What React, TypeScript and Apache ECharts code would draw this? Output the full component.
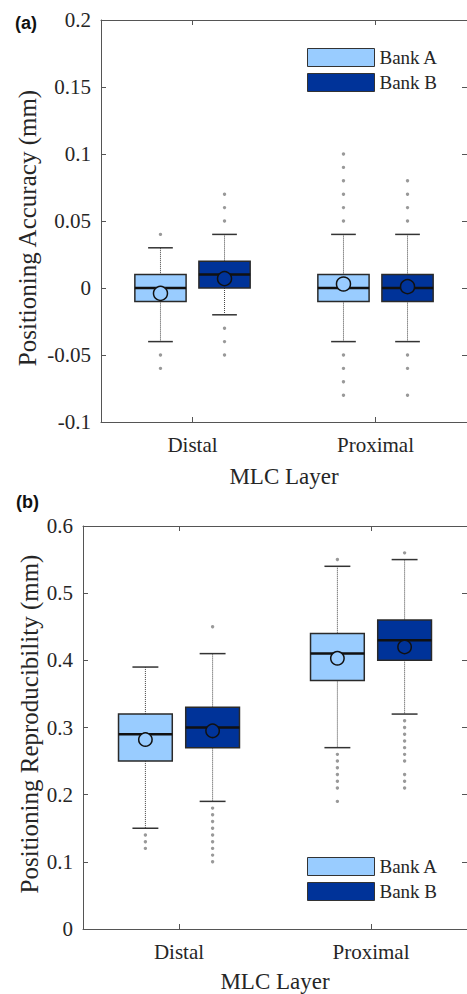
import React, { useEffect, useRef } from "react";
import * as echarts from "echarts";

// ---------- data ----------
const categories = ["Distal", "Proximal"];
const bankNames = ["Bank A", "Bank B"];

// Panel (a): positioning accuracy, per category [lowWhisker, Q1, median, Q3, highWhisker]
const accStatsA = [
  [-0.04, -0.01, 0, 0.01, 0.03],
  [-0.04, -0.01, 0, 0.01, 0.04],
];
const accStatsB = [
  [-0.02, 0, 0.01, 0.02, 0.04],
  [-0.04, -0.01, 0, 0.01, 0.04],
];
const accMeanA = [-0.004, 0.003];
const accMeanB = [0.007, 0.001];
const accOutA = [
  [0.04, -0.05, -0.06],
  [0.05, 0.06, 0.07, 0.08, 0.09, 0.1, -0.05, -0.06, -0.07, -0.08],
];
const accOutB = [
  [0.05, 0.06, 0.07, -0.03, -0.04, -0.05],
  [0.05, 0.06, 0.07, 0.08, -0.05, -0.06, -0.08],
];
const accTicks = { min: -0.1, max: 0.2, interval: 0.05 };

// Panel (b): positioning reproducibility
const repStatsA = [
  [0.15, 0.25, 0.29, 0.32, 0.39],
  [0.27, 0.37, 0.41, 0.44, 0.54],
];
const repStatsB = [
  [0.19, 0.27, 0.3, 0.33, 0.41],
  [0.32, 0.4, 0.43, 0.46, 0.55],
];
const repMeanA = [0.282, 0.403];
const repMeanB = [0.295, 0.42];
const repOutA = [
  [0.14, 0.13, 0.12],
  [0.55, 0.26, 0.25, 0.24, 0.23, 0.22, 0.21, 0.19],
];
const repOutB = [
  [0.45, 0.18, 0.17, 0.16, 0.15, 0.14, 0.13, 0.12, 0.11, 0.1],
  [0.56, 0.31, 0.3, 0.29, 0.28, 0.27, 0.26, 0.25, 0.23, 0.22, 0.21],
];
const repTicks = { min: 0, max: 0.6, interval: 0.1 };

// ---------- styles ----------
const COLOR_A = "#99CCFF";
const COLOR_B = "#003399";
const SERIF = "Liberation Serif";
const AXIS_COLOR = "#555";
const TEXT_COLOR = "#262626";

const boxData = (stats: number[][], means: number[]) =>
  stats.map((s, i) => [i, ...s, means[i]]);
const outData = (outs: number[][]) =>
  outs.flatMap((arr, i) => arr.map((v) => [i, v]));

function boxRender(offsetFrac: number, color: string, r: number) {
  return (params: any, api: any) => {
    const cat = api.value(0);
    const low = api.value(1);
    const q1 = api.value(2);
    const med = api.value(3);
    const q3 = api.value(4);
    const high = api.value(5);
    const mean = api.value(6);
    const band = api.size([1, 0])[0];
    const cx = api.coord([cat, 0])[0] + offsetFrac * band;
    const y = (v: number) => api.coord([cat, v])[1];
    const bw = 0.28 * band;
    const cw = 0.135 * band;
    const whisk = { stroke: "#444", lineWidth: 1, lineDash: [1, 1] };
    const cap = { stroke: "#333", lineWidth: 1.5 };
    return {
      type: "group",
      children: [
        { type: "line", shape: { x1: cx, y1: y(high), x2: cx, y2: y(q3) }, style: whisk },
        { type: "line", shape: { x1: cx, y1: y(q1), x2: cx, y2: y(low) }, style: whisk },
        { type: "line", shape: { x1: cx - cw / 2, y1: y(high), x2: cx + cw / 2, y2: y(high) }, style: cap },
        { type: "line", shape: { x1: cx - cw / 2, y1: y(low), x2: cx + cw / 2, y2: y(low) }, style: cap },
        {
          type: "rect",
          shape: { x: cx - bw / 2, y: y(q3), width: bw, height: y(q1) - y(q3) },
          style: { fill: color, stroke: "#2a2a2a", lineWidth: 1.5 },
        },
        { type: "line", shape: { x1: cx - bw / 2, y1: y(med), x2: cx + bw / 2, y2: y(med) }, style: { stroke: "#111", lineWidth: 2.5 } },
        { type: "circle", shape: { cx, cy: y(mean), r }, style: { fill: color, stroke: "#111", lineWidth: 1.5 } },
      ],
    };
  };
}

function outRender(offsetFrac: number) {
  return (params: any, api: any) => {
    const cat = api.value(0);
    const band = api.size([1, 0])[0];
    const p = api.coord([cat, api.value(1)]);
    return {
      type: "circle",
      shape: { cx: p[0] + offsetFrac * band, cy: p[1], r: 1.7 },
      style: { fill: "#999" },
    };
  };
}

const fmt = (v: number) => String(Math.round(v * 100) / 100);

function axesFor(gridIndex: number, ticks: { min: number; max: number; interval: number }, nameGap: number) {
  const xBottom = {
    type: "category",
    gridIndex,
    data: categories,
    position: "bottom",
    axisLine: { show: true, onZero: false, lineStyle: { color: AXIS_COLOR, width: 1 } },
    axisTick: { show: true, inside: true, alignWithLabel: true, length: 5, lineStyle: { color: AXIS_COLOR } },
    axisLabel: { fontFamily: SERIF, fontSize: 21, color: TEXT_COLOR, margin: 12 },
    name: "MLC Layer",
    nameLocation: "middle",
    nameGap,
    nameTextStyle: { fontFamily: SERIF, fontSize: 23, color: TEXT_COLOR },
    splitLine: { show: false },
  };
  const xTop = {
    type: "category",
    gridIndex,
    data: categories,
    position: "top",
    axisLine: { show: true, onZero: false, lineStyle: { color: AXIS_COLOR, width: 1 } },
    axisTick: { show: true, inside: true, alignWithLabel: true, length: 5, lineStyle: { color: AXIS_COLOR } },
    axisLabel: { show: false },
    splitLine: { show: false },
  };
  const yLeft = {
    type: "value",
    gridIndex,
    position: "left",
    min: ticks.min,
    max: ticks.max,
    interval: ticks.interval,
    axisLine: { show: true, onZero: false, lineStyle: { color: AXIS_COLOR, width: 1 } },
    axisTick: { show: true, inside: true, length: 5, lineStyle: { color: AXIS_COLOR } },
    axisLabel: { fontFamily: SERIF, fontSize: 21, color: TEXT_COLOR, margin: 10, formatter: fmt },
    splitLine: { show: false },
  };
  const yRight = {
    type: "value",
    gridIndex,
    position: "right",
    min: ticks.min,
    max: ticks.max,
    interval: ticks.interval,
    axisLine: { show: true, onZero: false, lineStyle: { color: AXIS_COLOR, width: 1 } },
    axisTick: { show: true, inside: true, length: 5, lineStyle: { color: AXIS_COLOR } },
    axisLabel: { show: false },
    splitLine: { show: false },
  };
  return { x: [xBottom, xTop], y: [yLeft, yRight] };
}

function panelSeries(
  xIdx: number,
  yIdx: number,
  statsA: number[][],
  meanA: number[],
  statsB: number[][],
  meanB: number[],
  outA: number[][],
  outB: number[][],
  r: number
) {
  const common = { xAxisIndex: xIdx, yAxisIndex: yIdx, silent: true };
  return [
    {
      ...common,
      type: "custom",
      name: bankNames[0],
      itemStyle: { color: COLOR_A },
      renderItem: boxRender(-0.175, COLOR_A, r),
      encode: { x: 0, y: [1, 2, 3, 4, 5] },
      data: boxData(statsA, meanA),
      z: 3,
    },
    {
      ...common,
      type: "custom",
      name: bankNames[1],
      itemStyle: { color: COLOR_B },
      renderItem: boxRender(0.175, COLOR_B, r),
      encode: { x: 0, y: [1, 2, 3, 4, 5] },
      data: boxData(statsB, meanB),
      z: 3,
    },
    {
      ...common,
      type: "custom",
      name: "Bank A outliers",
      renderItem: outRender(-0.175),
      encode: { x: 0, y: 1 },
      data: outData(outA),
      z: 2,
    },
    {
      ...common,
      type: "custom",
      name: "Bank B outliers",
      renderItem: outRender(0.175),
      encode: { x: 0, y: 1 },
      data: outData(outB),
      z: 2,
    },
  ];
}

export default function App() {
  const ref = useRef<HTMLDivElement>(null);
  useEffect(() => {
    document.body.style.margin = "0";
    if (!ref.current) return;
    const chart = echarts.init(ref.current, undefined, { renderer: "svg" });
    const a = axesFor(0, accTicks, 43);
    const b = axesFor(1, repTicks, 41);
    const legendCommon = {
      data: bankNames,
      orient: "vertical",
      icon: "rect",
      itemWidth: 67,
      itemHeight: 18,
      itemGap: 6,
      selectedMode: false,
      itemStyle: { borderColor: "#333", borderWidth: 1 },
      textStyle: { fontFamily: SERIF, fontSize: 19, color: TEXT_COLOR },
    };
    chart.setOption({
      animation: false,
      backgroundColor: "#fff",
      grid: [
        { left: 101, top: 20, width: 370, height: 402 },
        { left: 83, top: 526, width: 388, height: 404 },
      ],
      legend: [
        { ...legendCommon, left: 302, top: 43 },
        { ...legendCommon, left: 302, top: 852 },
      ],
      xAxis: [...a.x, ...b.x],
      yAxis: [...a.y, ...b.y],
      graphic: [
        {
          type: "text",
          left: 15,
          top: 14,
          style: { text: "(a)", font: "bold 18px 'Liberation Sans'", fill: "#111" },
        },
        {
          type: "text",
          left: 16,
          top: 493,
          style: { text: "(b)", font: "bold 18px 'Liberation Sans'", fill: "#111" },
        },
        {
          type: "text",
          x: 27,
          y: 228,
          rotation: Math.PI / 2,
          style: {
            text: "Positioning Accuracy (mm)",
            font: `25px '${SERIF}'`,
            fill: TEXT_COLOR,
            textAlign: "center",
            textVerticalAlign: "middle",
          },
        },
        {
          type: "text",
          x: 29,
          y: 724,
          rotation: Math.PI / 2,
          style: {
            text: "Positioning Reproducibility (mm)",
            font: `25px '${SERIF}'`,
            fill: TEXT_COLOR,
            textAlign: "center",
            textVerticalAlign: "middle",
          },
        },
      ],
      series: [
        ...panelSeries(0, 0, accStatsA, accMeanA, accStatsB, accMeanB, accOutA, accOutB, 7),
        ...panelSeries(2, 2, repStatsA, repMeanA, repStatsB, repMeanB, repOutA, repOutB, 6.7),
      ],
    });
    return () => chart.dispose();
  }, []);
  return <div ref={ref} style={{ width: 467, height: 994 }} />;
}
